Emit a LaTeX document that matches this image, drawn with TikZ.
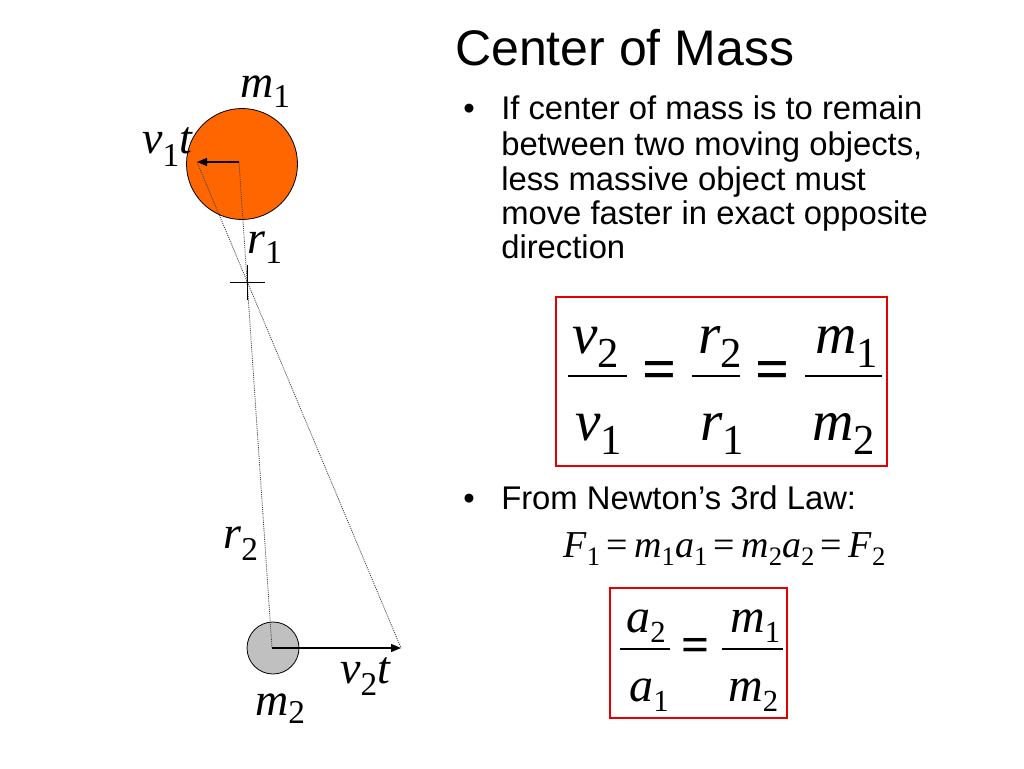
\documentclass[tikz,border=0pt]{standalone}
\usepackage{fontspec}
\setmainfont{Liberation Serif}
\newfontfamily\arialfont{Liberation Sans}
\usetikzlibrary{arrows.meta}
\definecolor{ballorange}{RGB}{255,102,0}
\definecolor{ballgray}{RGB}{192,192,192}
\definecolor{boxred}{RGB}{228,0,0}
% variable with upright subscript: #1 base, #2 subscript, #3 sub size (pt), #4 drop (pt)
\newcommand{\vsub}[4]{\textit{#1}\raisebox{-#4pt}{\fontsize{#3}{#3}\selectfont\upshape #2}}
\begin{document}
\begin{tikzpicture}[x=0.75pt,y=-0.75pt,
  lab/.style={inner sep=0pt,anchor=base west,font=\fontsize{34.5}{40}\selectfont},
  bigf/.style={inner sep=0pt,anchor=base west,font=\fontsize{43}{50}\selectfont},
  smallf/.style={inner sep=0pt,anchor=base west,font=\fontsize{36}{42}\selectfont},
  bodytext/.style={inner sep=0pt,anchor=base west,font=\arialfont\fontsize{24.6}{26}\selectfont},
  eqsign/.style={inner sep=0pt,font=\bfseries\fontsize{#1}{#1}\selectfont},
  fracbar/.style={line width=1.3pt},
  dotline/.style={line width=0.6pt,dash pattern=on 0.8pt off 0.8pt,black!75},
  velarrow/.style={line width=1.1pt,-{Triangle[length=7.5pt,width=6pt]}},
  redbox/.style={draw=boxred,line width=1.6pt}]
\useasboundingbox (0,0) rectangle (1024,768);
\fill[white] (0,0) rectangle (1024,768);

% title and text
\node[inner sep=0pt,anchor=base west,font=\arialfont\fontsize{37.5}{40}\selectfont] (title) at (455,65) {Center of Mass};
\node[bodytext] (b1) at (463,119) {•};
\node[bodytext] (l1) at (501,119) {If center of mass is to remain};
\node[bodytext] (l2) at (501,155) {between two moving objects,};
\node[bodytext] (l3) at (501,190) {less massive object must};
\node[bodytext] (l4) at (501,224) {move faster in exact opposite};
\node[bodytext] (l5) at (501,258) {direction};
\node[bodytext] (b2) at (463,509) {•};
\node[bodytext] (l6) at (501,509) {From Newton’s 3rd Law:};

% balls
\node[circle,draw=black,line width=0.6pt,fill=ballorange,inner sep=0pt,minimum size=83.25pt] (m1ball) at (242,164) {};
\node[circle,draw=black,line width=0.6pt,fill=ballgray,inner sep=0pt,minimum size=39pt] (m2ball) at (273,648) {};

\coordinate (c1) at (239,162);
\coordinate (t1) at (197,162);
\coordinate (c2) at (272,648);
\coordinate (t2) at (401,648);
\coordinate (cm) at (247,282);
\coordinate (ch1) at (230,282);
\coordinate (ch2) at (265,282);
\coordinate (cv1) at (247,265);
\coordinate (cv2) at (247,300);

\draw[dotline] (c1) -- (c2);
\draw[dotline] (t1) -- (t2);
\draw[velarrow] (c1) -- (t1);
\draw[velarrow] (c2) -- (t2);
\draw[line width=0.6pt] (ch1) -- (ch2);
\draw[line width=0.6pt] (cv1) -- (cv2);

% labels
\node[lab] (lm1) at (240,97) {\vsub{m}{1}{25}{8}};
\node[lab] (lv1) at (142,153) {\vsub{v}{1}{25}{10}\textit{t}};
\node[lab] (lr1) at (247,253) {\vsub{r}{1}{25}{7.5}};
\node[lab] (lr2) at (223,548) {\vsub{r}{2}{25}{9}};
\node[lab] (lv2) at (340,683) {\vsub{v}{2}{25}{9}\textit{t}};
\node[lab] (lm2) at (255,715) {\vsub{m}{2}{25}{6}};

% big boxed equation
\draw[redbox] (556,297) rectangle (887,466);
\node[bigf] (nv2) at (572,353) {\vsub{v}{2}{32}{11}};
\node[bigf] (dv1) at (575,440) {\vsub{v}{1}{32}{11}};
\draw[fracbar] (568,376) -- (627,376);
\node[eqsign=45] (eq1) at (660,375) {=};
\node[bigf] (nr2) at (698,353) {\vsub{r}{2}{32}{11}};
\node[bigf] (dr1) at (700,440) {\vsub{r}{1}{32}{11}};
\draw[fracbar] (692,376) -- (740,376);
\node[eqsign=45] (eq2) at (773,375) {=};
\node[bigf] (nm1) at (815,353) {\vsub{m}{1}{32}{11}};
\node[bigf] (dm2) at (812,440) {\vsub{m}{2}{32}{11}};
\draw[fracbar] (805,376) -- (882,376);

% Newton equation
\node[inner sep=0pt,anchor=base west,font=\fontsize{28.5}{32}\selectfont] (newton) at (563,557)
  {\vsub{F}{1}{20}{6}\,=\,\vsub{m}{1}{20}{6}\vsub{a}{1}{20}{6}\,=\,\vsub{m}{2}{20}{6}\vsub{a}{2}{20}{6}\,=\,\vsub{F}{2}{20}{6}};

% small boxed equation
\draw[redbox] (610,588) rectangle (787,718);
\node[smallf] (na2) at (626,632) {\vsub{a}{2}{23}{8}};
\node[smallf] (da1) at (629,701) {\vsub{a}{1}{23}{8}};
\draw[fracbar] (620,649) -- (670,649);
\node[eqsign=37] (eq3) at (696,650) {=};
\node[smallf] (nm1s) at (730,632) {\vsub{m}{1}{23}{8}};
\node[smallf] (dm2s) at (728,701) {\vsub{m}{2}{23}{8}};
\draw[fracbar] (722,649) -- (783,649);
\end{tikzpicture}
\end{document}
